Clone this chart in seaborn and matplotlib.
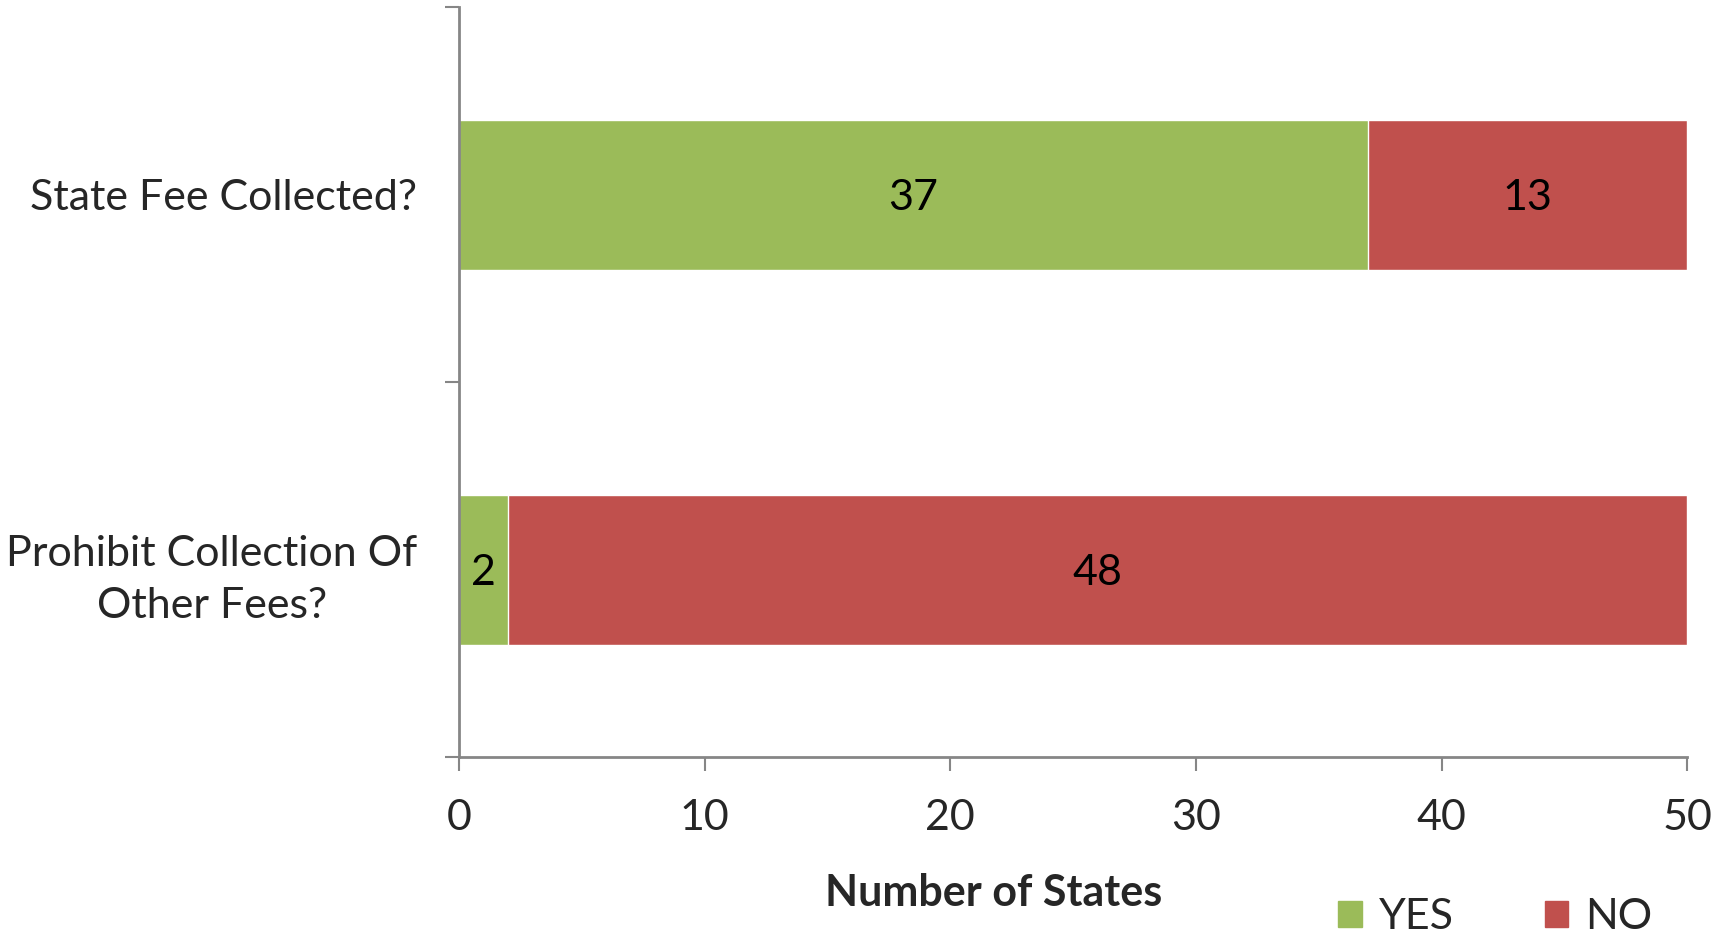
import pandas as pd
import matplotlib.pyplot as plt
import seaborn as sns

# Data
questions = ['State Fee Collected?', 'Prohibit Collection Of\nOther Fees?']
yes_counts = [37, 2]
no_counts = [13, 48]

df = pd.DataFrame({'Question': questions, 'YES': yes_counts, 'NO': no_counts})
df['Total'] = df['YES'] + df['NO']

green = '#9BBB59'
red = '#C0504D'
grey = '#868686'
fs = 31

sns.set_style('white')
plt.rcParams['font.family'] = ['Lato', 'DejaVu Sans']

fig = plt.figure(figsize=(17.13, 9.36), dpi=100)
ax = fig.add_axes([0.268, 0.191, 0.717, 0.801])

# stacked bars: total in red underneath, yes in green on top
sns.barplot(data=df, x='Total', y='Question', color=red, width=0.4, orient='h', ax=ax, saturation=1)
sns.barplot(data=df, x='YES', y='Question', color=green, width=0.4, orient='h', ax=ax, saturation=1)

# value labels centred in each segment
for i, row in df.iterrows():
    ax.text(row['YES'] / 2, i, str(row['YES']), ha='center', va='center_baseline', fontsize=fs, color='black')
    ax.text(row['YES'] + row['NO'] / 2, i, str(row['NO']), ha='center', va='center_baseline', fontsize=fs, color='black')

ax.set_xlim(0, 50)
ax.set_ylim(1.5, -0.5)
ax.set_xticks([0, 10, 20, 30, 40, 50])
ax.tick_params(axis='x', labelsize=fs, length=10, width=1.5, color=grey, direction='out', pad=20, bottom=True)
ax.set_yticks([0, 1])
ax.set_yticklabels(questions, fontsize=fs, linespacing=1.45, multialignment='center')
ax.tick_params(axis='y', which='major', length=0, pad=30)
ax.set_yticks([-0.5, 0.5, 1.5], minor=True)
ax.tick_params(axis='y', which='minor', length=10, width=1.5, color=grey, left=True)

for s in ['top', 'right']:
    ax.spines[s].set_visible(False)
for s in ['left', 'bottom']:
    ax.spines[s].set_color(grey)
    ax.spines[s].set_linewidth(2)

ax.set_ylabel('')
ax.set_xlabel('')
fig.text(0.58, 0.046, 'Number of States', ha='center', va='center', fontsize=fs, fontweight='bold')

# legend
handles = [plt.Rectangle((0, 0), 1, 1, color=green), plt.Rectangle((0, 0), 1, 1, color=red)]
fig.legend(handles, ['YES', 'NO'], loc='center', bbox_to_anchor=(0.873, 0.02), ncol=2, frameon=False,
           fontsize=fs, handlelength=0.55, handleheight=0.55, handletextpad=0.4, columnspacing=2.1,
           borderpad=0, borderaxespad=0)

fig.savefig('out.png', dpi=100)
